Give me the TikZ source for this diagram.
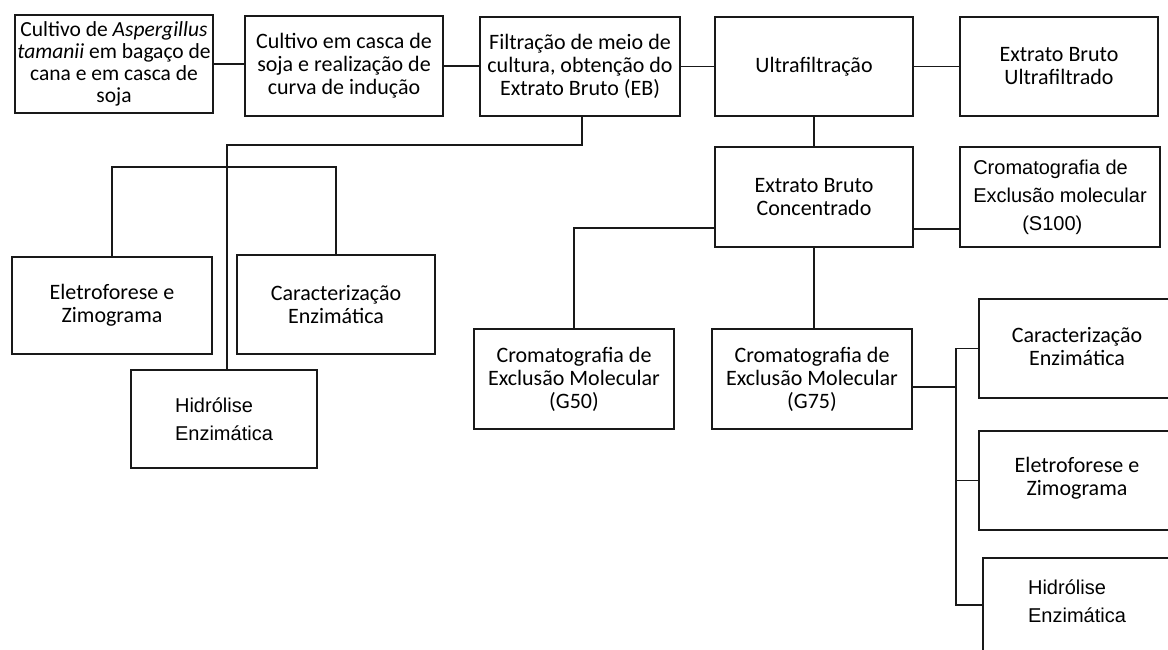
\documentclass[tikz,border=0pt]{standalone}
\usepackage{fontspec}
\setmainfont{Carlito}
\newfontfamily\arialf{Liberation Sans}
\begin{document}
\begin{tikzpicture}[x=1pt,y=-1pt,
 box/.style={draw=black!90, line width=1.7pt, minimum width=198pt, minimum height=99pt, align=center, inner sep=0pt, font=\fontsize{22}{23}\selectfont},
 openbox/.style={box, draw=none},
 conn/.style={draw=black!90, line width=1.7pt},
 ar/.style={font=\arialf\fontsize{20}{28}\selectfont, align=left, inner sep=0pt}]
\useasboundingbox (0,0) rectangle (1168,650);
\clip (0,0) rectangle (1168,650);

\node[box, minimum height=98pt, font=\fontsize{21.5}{22}\selectfont] (b1) at (114,64) {Cultivo de \textit{Aspergillus}\\\textit{tamanii} em bagaço de\\cana e em casca de\\soja};
\node[box, minimum height=100pt] (b2) at (344,66) {Cultivo em casca de\\soja e realização de\\curva de indução};
\node[box, minimum width=200pt] (b3) at (580,66.5) {Filtração de meio de\\cultura, obtenção do\\Extrato Bruto (EB)};
\node[box] (b4) at (814,66.5) {Ultrafiltração};
\node[box] (b5) at (1059,66.5) {Extrato Bruto\\Ultrafiltrado};
\node[box, minimum height=100pt] (b6) at (814,197) {Extrato Bruto\\Concentrado};
\node[box, minimum width=200pt, minimum height=100pt, ar] (b7) at (1060,197) {Cromatografia de\\Exclusão molecular\\\hspace*{49pt}(S100)};
\node[box, minimum width=200pt, minimum height=100pt] (b8) at (574,379) {Cromatografia de\\Exclusão Molecular\\(G50)};
\node[box, minimum width=200pt, minimum height=100pt] (b9) at (812,379) {Cromatografia de\\Exclusão Molecular\\(G75)};
\node[box, minimum width=200pt, minimum height=97pt] (b10) at (112,305.5) {Eletroforese e\\Zimograma};
\node[box] (b11) at (336,304.5) {Caracterização\\Enzimática};
\node[box, minimum width=186pt, minimum height=98pt, ar] (b12) at (224,419) {Hidrólise\\Enzimática};

% boxes running off the right edge: only top, left and bottom sides are seen
\node[openbox, minimum width=240pt, minimum height=97pt, anchor=west] (b13) at (979,348.5) {};
\node[openbox] (t13) at (1077,346.5) {Caracterização\\Enzimática};
\node[openbox, minimum width=240pt, minimum height=97pt, anchor=west] (b14) at (979,480.5) {};
\node[openbox] (t14) at (1077,478.5) {Eletroforese e\\Zimograma};
\node[openbox, minimum width=240pt, minimum height=120pt, anchor=north west] (b15) at (983,558) {};
\node[ar] (t15) at (1077,601) {Hidrólise\\Enzimática};
\draw[conn] (b13.north east) -- (b13.north west) -- (b13.south west) -- (b13.south east);
\draw[conn] (b14.north east) -- (b14.north west) -- (b14.south west) -- (b14.south east);
\draw[conn] (b15.north east) -- (b15.north west) -- (b15.south west);

\draw[conn] (b1.east) -- (b1.east -| b2.west);
\draw[conn] (b2.east) -- (b2.east -| b3.west);
\draw[conn] (b3.east) -- (b3.east -| b4.west);
\draw[conn] (b4.east) -- (b4.east -| b5.west);
\draw[conn] (b4.south) -- (b6.north);
\coordinate (j1) at (582,145);
\draw[conn] (b3.south -| j1) -- (j1) -| ([xshift=3pt]b12.north);
\coordinate (j2) at (224,167);
\draw[conn] (b10.north) |- (j2) -| (b11.north);
\draw[conn] ([yshift=-31pt]b6.west) -| (b8.north);
\draw[conn] (b6.south) -- (b6.south |- b9.north);
\draw[conn] ([yshift=-32pt]b6.east) -- ([yshift=-32pt]b6.east -| b7.west);
\coordinate (bus) at (956,387);
\coordinate (j3) at (956,605);
\draw[conn] ([yshift=-8pt]b9.east) -- (bus);
\draw[conn] (b13.west) -| (j3) -- (j3 -| b15.west);
\draw[conn] (b14.west) -- (b14.west -| j3);
\end{tikzpicture}
\end{document}
